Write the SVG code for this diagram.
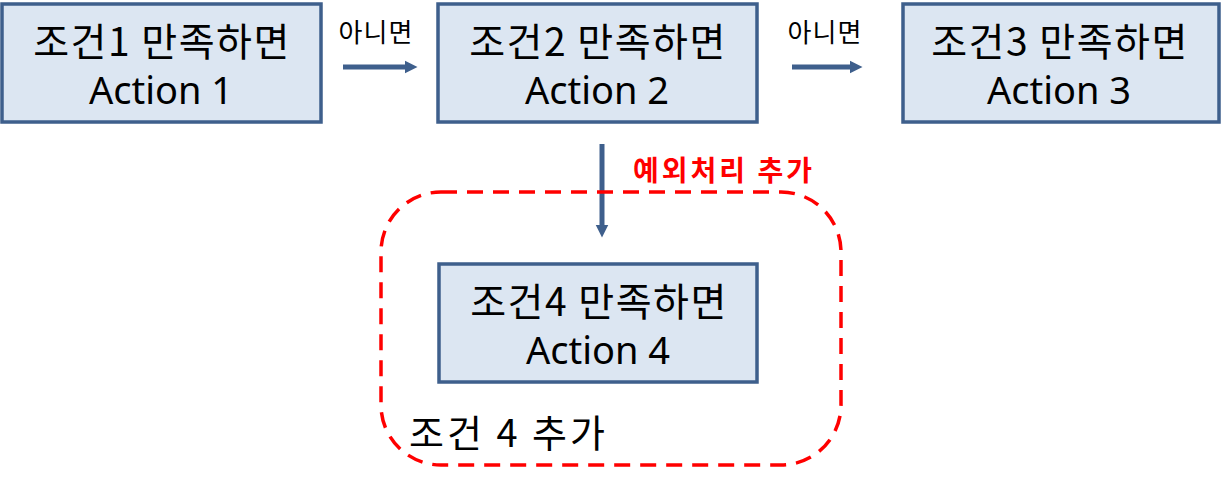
<svg xmlns="http://www.w3.org/2000/svg" width="1221" height="480" viewBox="0 0 1221 480">
<style>
.box{fill:#dce6f2;stroke:#3e5f8c;stroke-width:3.5}
.h{font-family:"Noto Sans CJK KR","Noto Sans",sans-serif;font-size:39px;letter-spacing:1.5px;fill:#000;text-anchor:middle}
.a{font-family:"Noto Sans","Noto Sans CJK KR",sans-serif;font-size:38px;fill:#000;text-anchor:middle}
.lbl{font-family:"Noto Sans CJK KR",sans-serif;font-size:26px;letter-spacing:1px;fill:#000;text-anchor:middle}
.conn{stroke:#3e5f8c;stroke-width:5;fill:none}
</style>
<defs>
<marker id="ah" viewBox="0 0 10 10" refX="5" refY="5" markerWidth="2.6" markerHeight="3" orient="auto" markerUnits="strokeWidth">
<path d="M0,0 L10,5 L0,10 z" fill="#3e5f8c"/>
</marker>
</defs>
<g id="connectors">
<line class="conn" x1="343" y1="67" x2="411" y2="67" marker-end="url(#ah)"/>
<line class="conn" x1="792" y1="67" x2="856" y2="67" marker-end="url(#ah)"/>
<line class="conn" x1="602" y1="144" x2="602" y2="231" marker-end="url(#ah)"/>
<text class="lbl" x="376" y="42">아니면</text>
<text class="lbl" x="825" y="42">아니면</text>
</g>
<g id="group4">
<rect x="381" y="192" width="460" height="273" rx="60" ry="60" fill="none" stroke="#ff0000" stroke-width="3.5" stroke-dasharray="16 10"/>
<text x="633" y="181" font-family="Noto Sans CJK KR,sans-serif" font-size="28" letter-spacing="3" font-weight="bold" fill="#ff0000">예외처리 추가</text>
<text x="409" y="447" font-family="Noto Sans CJK KR,sans-serif" font-size="38" letter-spacing="3" fill="#000">조건 4 추가</text>
</g>
<g id="node1">
<rect class="box" x="2" y="4" width="319" height="118"/>
<text class="h" x="162" y="56">조건1 만족하면</text>
<text class="a" x="161" y="104">Action 1</text>
</g>
<g id="node2">
<rect class="box" x="438" y="4" width="319" height="118"/>
<text class="h" x="598" y="56">조건2 만족하면</text>
<text class="a" x="597" y="104">Action 2</text>
</g>
<g id="node3">
<rect class="box" x="903" y="4" width="316" height="118"/>
<text class="h" x="1060" y="56">조건3 만족하면</text>
<text class="a" x="1059" y="104">Action 3</text>
</g>
<g id="node4">
<rect class="box" x="439" y="264" width="318" height="118"/>
<text class="h" x="599" y="316">조건4 만족하면</text>
<text class="a" x="598" y="364">Action 4</text>
</g>
</svg>
